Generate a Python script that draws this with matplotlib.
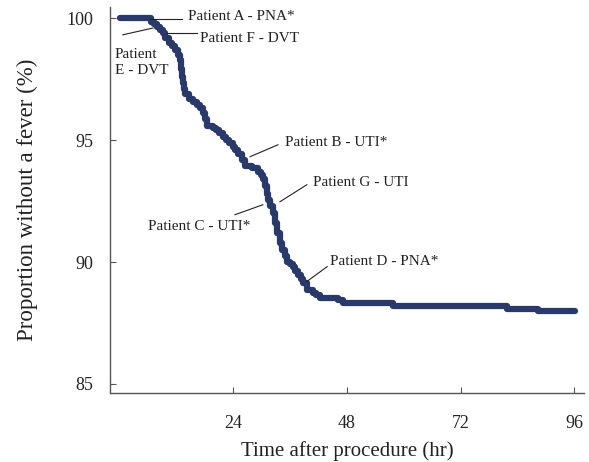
import matplotlib
matplotlib.use("Agg")
import matplotlib.pyplot as plt

# Kaplan-Meier style curve: time (hr) and proportion without fever (%)
times = [0, 6.5, 7.2, 7.8, 8.4, 9.0, 9.6, 10.3, 11.0, 11.6, 12.2, 12.7, 13.0,
         13.15, 13.3, 13.6, 13.8, 14.5, 15.4, 16.3, 17.0, 17.6, 18.0, 18.3, 19.7,
         20.3, 21.0, 21.8, 22.4, 23.0, 23.9, 24.4, 25.0, 25.8, 26.4, 28.0, 29.2,
         29.8, 30.2, 30.7, 31.0, 31.3, 31.8, 32.3, 32.8, 33.2, 33.8, 34.2, 34.8,
         35.3, 36.0, 36.6, 37.1, 37.6, 38.2, 38.7, 39.5, 40.8, 41.5, 42.3, 46.1,
         47.1, 57.7, 81.8, 88.4, 96.2]
surv = [100, 99.85, 99.75, 99.64, 99.52, 99.4, 99.2, 99.0, 98.85, 98.7, 98.5,
        98.3, 97.9, 97.6, 97.35, 97.1, 96.9, 96.7, 96.58, 96.45, 96.3, 96.1, 95.85,
        95.6, 95.5, 95.4, 95.3, 95.13, 95.0, 94.9, 94.7, 94.58, 94.45, 94.2, 93.95,
        93.85, 93.7, 93.55, 93.4, 93.1, 92.8, 92.55, 92.3, 92.0, 91.6, 91.2, 90.8,
        90.5, 90.25, 90.0, 89.9, 89.8, 89.65, 89.48, 89.3, 89.15, 88.87, 88.75,
        88.65, 88.54, 88.46, 88.33, 88.2, 88.08, 87.98, 87.98]

# annotations: label, text position, alignment, leader line start/end
labels = ["Patient A - PNA*", "Patient F - DVT", "Patient\nE - DVT",
          "Patient B - UTI*", "Patient G - UTI", "Patient C - UTI*",
          "Patient D - PNA*"]
text_x = [14.4, 16.9, -1.1, 34.9, 40.8, 27.5, 44.4]
text_y = [100.06, 99.15, 98.18, 94.89, 93.25, 91.45, 90.01]
text_ha = ["left", "left", "left", "left", "left", "right", "left"]
line_x0 = [6.3, 9.9, 0.6, 27.5, 33.8, 24.3, 39.5]
line_y0 = [99.97, 99.4, 99.32, 94.32, 92.47, 91.94, 89.2]
line_x1 = [13.1, 16.3, 7.0, 33.4, 39.5, 30.2, 43.8]
line_y1 = [99.97, 99.4, 99.6, 94.81, 93.17, 92.35, 89.81]

plt.rcParams["font.family"] = ["Liberation Serif", "DejaVu Serif"]

fig = plt.figure(figsize=(5.89, 4.62), dpi=100)
ax = fig.add_axes([0.1868, 0.15, 0.8048, 0.8348])

ax.plot(times, surv, drawstyle="steps-post", color="#28396a", linewidth=4.5,
        solid_joinstyle="round", solid_capstyle="round")

for i in range(len(labels)):
    ax.plot([line_x0[i], line_x1[i]], [line_y0[i], line_y1[i]],
            color="#222222", linewidth=0.8)
    ax.text(text_x[i], text_y[i], labels[i], ha=text_ha[i], va="center",
            fontsize=11, color="#222222", linespacing=1.25)

ax.set_xlim(-2.1, 98.1)
ax.set_ylim(84.64, 100.46)
ax.set_xticks([24, 48, 72, 96])
ax.set_yticks([85, 90, 95, 100])
ax.spines["top"].set_visible(False)
ax.spines["right"].set_visible(False)
for s in ["left", "bottom"]:
    ax.spines[s].set_color("#555555")
    ax.spines[s].set_linewidth(1.0)
ax.tick_params(direction="in", length=4, width=0.8, color="#555555",
               labelsize=13, labelcolor="#222222")
ax.tick_params(axis="y", pad=12)
ax.tick_params(axis="x", pad=16)

ax.set_xlabel("Time after procedure (hr)", fontsize=15, color="#222222", va="top")
ax.set_ylabel("Proportion without a fever (%)", fontsize=16.5, color="#222222")
ax.xaxis.set_label_coords(0.5, -0.125)
ax.yaxis.set_label_coords(-0.152, 0.5)

fig.savefig("out.png", dpi=100)
